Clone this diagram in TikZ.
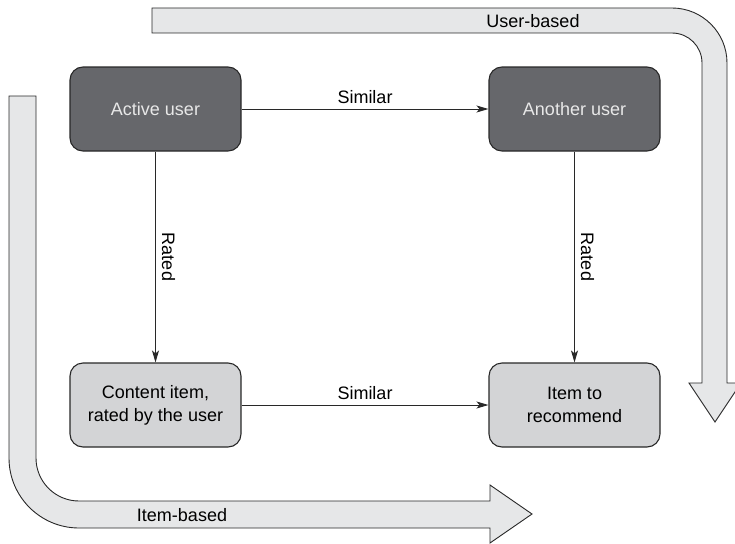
\documentclass[tikz,border=0pt]{standalone}
\usepackage{fontspec}
\setmainfont{Liberation Sans}
\usetikzlibrary{arrows.meta,positioning}
\definecolor{darkCol}{RGB}{102,103,107}
\definecolor{lightCol}{RGB}{211,212,214}
\definecolor{bandCol}{RGB}{230,231,232}
\definecolor{lineCol}{RGB}{40,40,40}
\definecolor{whiteText}{RGB}{232,232,232}
\tikzset{
  box/.style={draw=lineCol,rounded corners=13pt,line width=1.1pt,align=center,
              minimum width=171pt,minimum height=84pt,
              font=\fontsize{18}{23}\selectfont},
  darkbox/.style={box,fill=darkCol,text=whiteText},
  lightbox/.style={box,fill=lightCol,text=black},
  band/.style={draw=lineCol,line width=0.9pt,fill=bandCol},
  flow/.style={-{Stealth[length=12pt,width=7pt,inset=3pt]},line width=0.9pt,draw=lineCol},
  lab/.style={font=\fontsize{18}{22}\selectfont,text=black},
}

\begin{document}
\begin{tikzpicture}[x=1pt,y=-1pt]
  \useasboundingbox (0,0) rectangle (735,543);
  % wide arrows
  \draw[band] (152,8) -- (672,8) arc[start angle=-90,end angle=0,radius=55]
    -- (727,383) -- (741,383) -- (715,422) -- (689,383) -- (702,383)
    -- (702,63) arc[start angle=0,end angle=-90,radius=30] -- (152,33) -- cycle;
  \draw[band] (9,96) -- (36,96) -- (36,458) arc[start angle=180,end angle=90,radius=43]
    -- (490,501) -- (490,485) -- (532,514) -- (490,543) -- (490,528)
    -- (79,528) arc[start angle=90,end angle=180,radius=70] -- cycle;
  \node[lab] (ub) at (533,21) {User-based};
  \node[lab] (ib) at (182,515) {Item-based};
  % boxes
  \node[darkbox] (act) at (155.5,109) {Active user};
  \node[darkbox] (oth) at (574.5,109) {Another user};
  \node[lightbox] (cit) at (155.5,405) {Content item,\\rated by the user};
  \node[lightbox] (rec) at (574.5,405) {Item to\\recommend};
  % connectors
  \draw[flow] (act) -- node[lab,above,yshift=2pt] {Similar} (oth);
  \draw[flow] (cit) -- node[lab,above,yshift=2pt] {Similar} (rec);
  \draw[flow] (act) -- node[lab,anchor=south,rotate=-90,inner sep=6pt] {Rated} (cit);
  \draw[flow] (oth) -- node[lab,anchor=south,rotate=-90,inner sep=6pt] {Rated} (rec);
\end{tikzpicture}
\end{document}
